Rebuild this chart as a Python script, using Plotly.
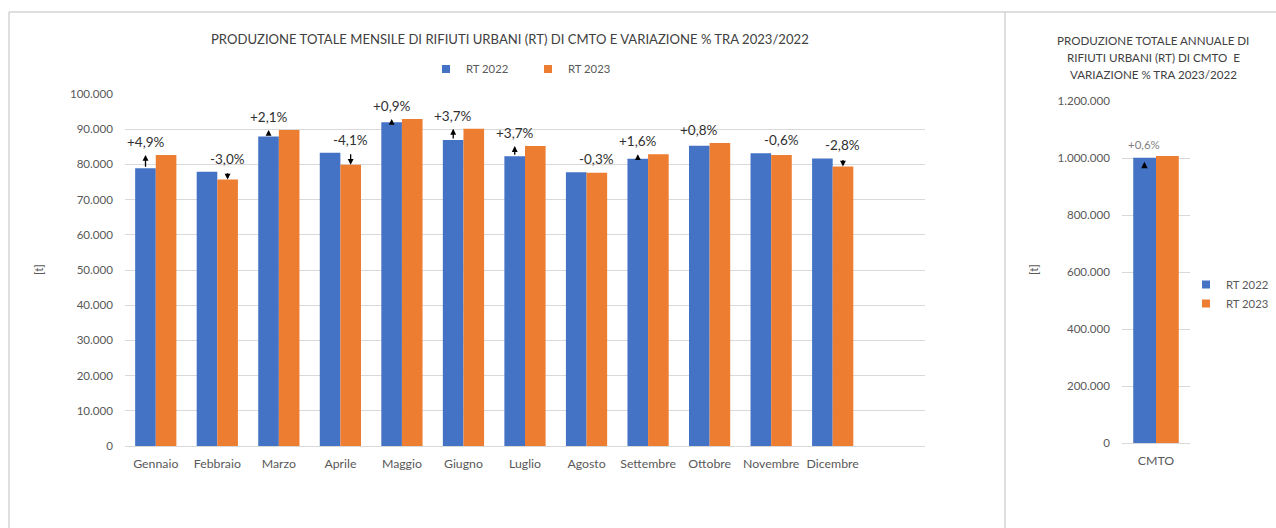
import plotly.graph_objects as go

W, H = 1276, 528

months = ["Gennaio", "Febbraio", "Marzo", "Aprile", "Maggio", "Giugno",
          "Luglio", "Agosto", "Settembre", "Ottobre", "Novembre", "Dicembre"]
rt2022 = [78900, 77900, 87900, 83300, 92000, 86900, 82300, 77800, 81600, 85300, 83200, 81700]
rt2023 = [82700, 75700, 89800, 79900, 92900, 90100, 85200, 77600, 82900, 86100, 82700, 79400]
pct_labels = ["+4,9%", "-3,0%", "+2,1%", "-4,1%", "+0,9%", "+3,7%",
              "+3,7%", "-0,3%", "+1,6%", "+0,8%", "-0,6%", "-2,8%"]

annual_cat = ["CMTO"]
annual_2022 = [1001000]
annual_2023 = [1007000]
annual_pct = ["+0,6%"]

series_names = ["RT 2022", "RT 2023"]
title_main = "PRODUZIONE TOTALE MENSILE DI RIFIUTI URBANI (RT) DI CMTO E VARIAZIONE % TRA 2023/2022"
title_annual = ["PRODUZIONE TOTALE ANNUALE DI", "RIFIUTI URBANI (RT) DI CMTO  E", "VARIAZIONE % TRA 2023/2022"]

BLUE = "#4472C4"
ORANGE = "#ED7D31"
GRID = "#d9d9d9"
TXT = "#595959"
FONT = "Lato"

def px(xp):
    return xp / W

def py(yp):
    return 1 - yp / H

fig = go.Figure()
xs = list(range(len(months)))
colors = [BLUE, ORANGE]
for name, vals, col in zip(series_names, [rt2022, rt2023], colors):
    fig.add_trace(go.Bar(x=xs, y=vals, name=name, marker=dict(color=col, line=dict(width=0)),
                         xaxis="x", yaxis="y", showlegend=False))
for name, vals, col in zip(series_names, [annual_2022, annual_2023], colors):
    fig.add_trace(go.Bar(x=[0], y=vals, name=name, marker=dict(color=col, line=dict(width=0)),
                         xaxis="x2", yaxis="y2", showlegend=False))
# legend entries (small square swatches like the original)
for lg in ["legend", "legend2"]:
    for name, col in zip(series_names, colors):
        fig.add_trace(go.Scatter(x=[None], y=[None], mode="markers", name=name,
                                 marker=dict(symbol="square", size=8, color=col),
                                 xaxis="x", yaxis="y", legend=lg, showlegend=True))

ann = []
off = 1 / 6
for i in xs:
    b, o = rt2022[i], rt2023[i]
    xpos = i - off if o >= b else i + off
    ann.append(dict(x=xpos, y=o, ax=xpos, ay=b, xref="x", yref="y", axref="x", ayref="y",
                    text="", showarrow=True, arrowhead=2, arrowsize=0.9, arrowwidth=1.3,
                    arrowcolor="black", standoff=0, startstandoff=0))
    ann.append(dict(x=xpos, y=max(b, o), xref="x", yref="y", text=pct_labels[i], showarrow=False,
                    xanchor="center", yanchor="bottom", yshift=3,
                    font=dict(family=FONT, size=13.5, color="#303030")))

# annual: small up-arrow marker inside the top of the 2022 bar
b, o = annual_2022[0], annual_2023[0]
ann.append(dict(x=-0.17, y=b, ax=0, ay=7, xref="x2", yref="y2",
                text="", showarrow=True, arrowhead=2, arrowsize=1.0, arrowwidth=1.3,
                arrowcolor="black", standoff=0, startstandoff=0, yshift=-4))
ann.append(dict(x=-0.17, y=max(b, o), xref="x2", yref="y2", text=annual_pct[0], showarrow=False,
                xanchor="center", yanchor="bottom", yshift=3,
                font=dict(family=FONT, size=11.5, color="#7f7f7f")))

# titles
ann.append(dict(x=px(510), y=py(39), xref="paper", yref="paper", showarrow=False,
                xanchor="center", yanchor="middle", text=title_main,
                font=dict(family=FONT, size=13.1, color="#404040")))
for k, line in enumerate(title_annual):
    ann.append(dict(x=px(1153), y=py(40.5 + 17 * k), xref="paper", yref="paper", showarrow=False,
                    xanchor="center", yanchor="middle", text=line,
                    font=dict(family=FONT, size=11.6, color="#404040")))
ann.append(dict(x=px(38), y=py(270), xref="paper", yref="paper", showarrow=False, text="[t]",
                xanchor="center", yanchor="middle",
                textangle=-90, font=dict(family=FONT, size=11.5, color=TXT)))
ann.append(dict(x=px(1033), y=py(270), xref="paper", yref="paper", showarrow=False, text="[t]",
                xanchor="center", yanchor="middle",
                textangle=-90, font=dict(family=FONT, size=11.5, color=TXT)))

shapes = [
    dict(type="line", xref="paper", yref="paper", x0=px(9), x1=px(9), y0=py(12), y1=py(540),
         line=dict(color="#bfbfbf", width=1)),
    dict(type="line", xref="paper", yref="paper", x0=px(9), x1=1, y0=py(12), y1=py(12),
         line=dict(color="#bfbfbf", width=1)),
    dict(type="line", xref="paper", yref="paper", x0=px(1005), x1=px(1005), y0=py(12), y1=py(540),
         line=dict(color="#bfbfbf", width=1)),
]

xfont = dict(family=FONT, size=12.3, color=TXT)
yfont = dict(family=FONT, size=11.6, color=TXT)
lfont = dict(family=FONT, size=11.3, color=TXT)
fig.update_layout(
    autosize=True, margin=dict(l=0, r=0, t=0, b=0, autoexpand=False),
    paper_bgcolor="white", plot_bgcolor="white",
    barmode="group", bargap=0.33, bargroupgap=0,
    separators=",.",
    font=dict(family=FONT, color=TXT),
    xaxis=dict(domain=[px(125), px(925)], range=[-0.5, 12.5], tickmode="array",
               tickvals=xs, ticktext=months, showgrid=False, zeroline=False, showline=False,
               ticks="", tickfont=xfont, ticklabelstandoff=9, fixedrange=True),
    yaxis=dict(domain=[py(446), py(94)], range=[0, 100000], dtick=10000, tickformat=",d",
               gridcolor=GRID, gridwidth=1, zeroline=True, zerolinecolor=GRID, zerolinewidth=1,
               showline=False, ticks="", tickfont=yfont, ticklabelstandoff=11),
    xaxis2=dict(domain=[px(1122), px(1190)], range=[-0.5, 0.5], tickmode="array",
                tickvals=[0], ticktext=annual_cat, showgrid=False, zeroline=False, showline=False,
                ticks="", tickfont=xfont, ticklabelstandoff=9, anchor="y2"),
    yaxis2=dict(domain=[py(443), py(101)], range=[0, 1200000], dtick=200000, tickformat=",d",
                gridcolor=GRID, gridwidth=1, zeroline=True, zerolinecolor=GRID, zerolinewidth=1,
                showline=False, ticks="", tickfont=yfont, ticklabelstandoff=11, anchor="x2"),
    legend=dict(orientation="h", x=px(426), xanchor="left", y=py(69), yanchor="middle",
                font=lfont, bgcolor="rgba(0,0,0,0)", entrywidth=57, entrywidthmode="pixels",
                itemwidth=30),
    legend2=dict(orientation="v", x=px(1186), xanchor="left", y=py(294), yanchor="middle",
                 font=lfont, bgcolor="rgba(0,0,0,0)", tracegroupgap=0, itemwidth=30),
    annotations=ann, shapes=shapes,
)

post = (
    "document.documentElement.style.margin='0';document.documentElement.style.padding='0';"
    "document.documentElement.style.overflow='hidden';"
    "document.body.style.margin='0';document.body.style.padding='0';document.body.style.overflow='hidden';"
    "var gd=document.getElementById('{plot_id}');gd.style.width='100vw';gd.style.height='100vh';"
    "Plotly.Plots.resize(gd);"
)

fig.write_html("out.html", config={"displayModeBar": False, "responsive": True},
               default_width="100vw", default_height="100vh", post_script=post)
